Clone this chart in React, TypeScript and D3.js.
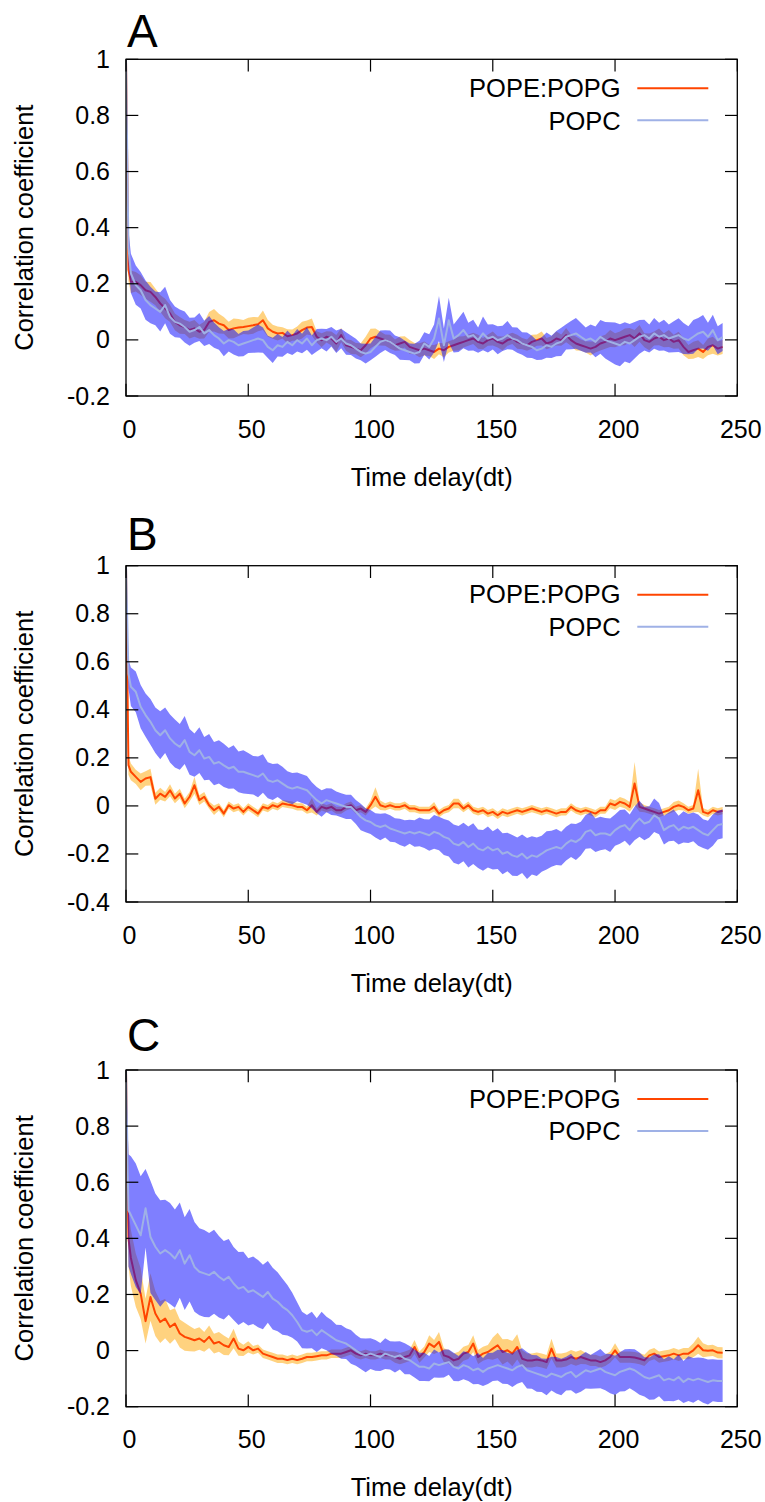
import React from 'react';
import * as d3 from 'd3';

// time grid (dt): 0, 1, then every 2 dt up to 244
const TIMES: number[] = [0, 1, ...d3.range(2, 245, 2)];

const X_TICKS = [0, 50, 100, 150, 200, 250];
const Y_TICKS_A = [-0.2, 0, 0.2, 0.4, 0.6, 0.8, 1];
const Y_TICKS_B = [-0.4, -0.2, 0, 0.2, 0.4, 0.6, 0.8, 1];
const Y_TICKS_C = [-0.2, 0, 0.2, 0.4, 0.6, 0.8, 1];
const PANEL_LABELS = ['A', 'B', 'C'];
const SERIES_NAMES = ['POPE:POPG', 'POPC'];
const X_LABEL = 'Time delay(dt)';
const Y_LABEL = 'Correlation coefficient';

// ---------- Panel A ----------
const PE_A = [1.0, 0.25,
  0.207, 0.207, 0.195, 0.177, 0.171, 0.153, 0.130, 0.112, 0.094, 0.064,
  0.052, 0.046, 0.035, 0.041, 0.029, 0.035, 0.064, 0.070, 0.058, 0.052,
  0.035, 0.041, 0.044, 0.046, 0.049, 0.052, 0.056, 0.070, 0.041, 0.029,
  0.023, 0.025, 0.013, 0.017, 0.023, 0.035, 0.044, 0.046, 0.011, -0.001,
  0.011, 0.005, -0.013, 0.017, -0.019, -0.025, -0.031, -0.037, -0.019, 0.005,
  0.011, 0.005, -0.001, -0.007, -0.019, -0.013, -0.007, -0.025, -0.031, -0.037,
  -0.031, -0.037, -0.043, -0.031, -0.037, -0.025, -0.019, -0.013, -0.007, -0.001,
  0.005, -0.007, -0.013, -0.001, 0.005, -0.007, -0.013, -0.001, 0.005, -0.007,
  -0.013, -0.019, -0.007, -0.001, 0.005, -0.013, -0.007, 0.005, -0.001, 0.017,
  -0.001, -0.013, -0.019, -0.025, -0.031, -0.025, -0.013, -0.007, 0.005, -0.001,
  0.005, 0.011, 0.017, 0.005, 0.023, -0.001, -0.007, 0.005, 0.011, -0.001,
  0.005, -0.007, -0.001, -0.025, -0.043, -0.037, -0.031, -0.043, -0.025, -0.019,
  -0.031, -0.025];
const PE_A_ERR = [0, 0.04,
  0.04, 0.035, 0.035, 0.03, 0.035, 0.03, 0.03, 0.035, 0.03, 0.03,
  0.03, 0.025, 0.03, 0.03, 0.025, 0.03, 0.035, 0.04, 0.035, 0.03,
  0.03, 0.035, 0.03, 0.025, 0.03, 0.03, 0.025, 0.035, 0.03, 0.025,
  0.025, 0.02, 0.025, 0.02, 0.025, 0.03, 0.025, 0.03, 0.02, 0.025,
  0.02, 0.025, 0.03, 0.025, 0.02, 0.025, 0.02, 0.025, 0.03, 0.035,
  0.03, 0.025, 0.02, 0.025, 0.02, 0.025, 0.02, 0.025, 0.02, 0.025,
  0.025, 0.02, 0.025, 0.02, 0.025, 0.02, 0.02, 0.025, 0.02, 0.02,
  0.02, 0.025, 0.02, 0.02, 0.025, 0.02, 0.025, 0.02, 0.02, 0.025,
  0.02, 0.02, 0.025, 0.02, 0.025, 0.02, 0.02, 0.025, 0.02, 0.025,
  0.02, 0.025, 0.02, 0.02, 0.025, 0.02, 0.025, 0.025, 0.03, 0.025,
  0.025, 0.03, 0.025, 0.03, 0.03, 0.025, 0.03, 0.025, 0.03, 0.025,
  0.03, 0.025, 0.03, 0.03, 0.025, 0.03, 0.03, 0.025, 0.03, 0.03,
  0.025, 0.025];
const PC_A = [1.0, 0.33,
  0.237, 0.195, 0.177, 0.142, 0.124, 0.112, 0.100, 0.124, 0.082, 0.064,
  0.058, 0.046, 0.029, 0.035, 0.046, 0.023, 0.035, 0.017, 0.005, -0.013,
  -0.001, -0.007, -0.019, -0.013, -0.007, -0.001, 0.005, -0.001, -0.025, -0.037,
  -0.019, -0.025, -0.007, -0.019, -0.001, -0.013, 0.005, -0.019, -0.001, 0.005,
  -0.001, 0.011, -0.007, 0.005, -0.013, -0.019, -0.031, -0.043, -0.049, -0.043,
  -0.025, -0.007, -0.001, -0.007, -0.019, -0.031, -0.037, -0.043, -0.049, -0.043,
  -0.013, -0.025, 0.005, 0.076, -0.019, 0.070, 0.005, 0.017, 0.035, 0.011,
  0.017, -0.001, 0.023, 0.005, 0.011, -0.001, 0.005, 0.017, 0.005, -0.001,
  -0.013, -0.019, -0.025, -0.037, -0.031, -0.019, -0.025, -0.013, -0.007, 0.011,
  0.017, 0.023, 0.011, -0.001, 0.005, -0.007, 0.011, -0.001, -0.007, -0.013,
  -0.019, -0.007, -0.013, -0.001, 0.011, 0.017, 0.005, 0.023, 0.011, 0.017,
  0.005, 0.011, 0.017, 0.005, -0.001, 0.011, 0.023, 0.029, 0.011, 0.035,
  -0.001, 0.010];
const PC_A_ERR = [0, 0.06,
  0.07, 0.07, 0.065, 0.07, 0.065, 0.06, 0.07, 0.065, 0.06, 0.055,
  0.05, 0.055, 0.05, 0.045, 0.05, 0.045, 0.05, 0.045, 0.04, 0.045,
  0.04, 0.045, 0.04, 0.045, 0.04, 0.045, 0.05, 0.045, 0.04, 0.045,
  0.04, 0.035, 0.04, 0.035, 0.04, 0.035, 0.04, 0.035, 0.04, 0.035,
  0.04, 0.035, 0.04, 0.035, 0.04, 0.035, 0.035, 0.03, 0.035, 0.03,
  0.035, 0.04, 0.035, 0.04, 0.035, 0.04, 0.035, 0.03, 0.035, 0.04,
  0.04, 0.045, 0.05, 0.08, 0.06, 0.08, 0.05, 0.06, 0.065, 0.05,
  0.055, 0.045, 0.06, 0.05, 0.045, 0.05, 0.045, 0.05, 0.04, 0.045,
  0.04, 0.045, 0.04, 0.035, 0.04, 0.045, 0.04, 0.045, 0.05, 0.045,
  0.05, 0.055, 0.05, 0.045, 0.05, 0.055, 0.06, 0.065, 0.07, 0.075,
  0.075, 0.07, 0.07, 0.065, 0.06, 0.055, 0.05, 0.055, 0.05, 0.055,
  0.05, 0.055, 0.06, 0.055, 0.05, 0.06, 0.055, 0.06, 0.05, 0.055,
  0.05, 0.05];

// ---------- Panel B ----------
const PE_B = [1.0, 0.17,
  0.142, 0.121, 0.100, 0.114, 0.120, 0.030, 0.051, 0.038, 0.065, 0.031,
  0.051, 0.010, 0.038, 0.086, 0.024, 0.038, 0.003, -0.018, -0.004, -0.032,
  0.003, -0.011, -0.004, -0.025, -0.004, -0.018, -0.032, -0.004, -0.011, 0.003,
  -0.004, 0.010, 0.006, 0.003, -0.004, -0.004, -0.018, 0.003, -0.025, -0.004,
  -0.011, -0.004, -0.018, -0.018, -0.004, 0.003, -0.018, -0.011, -0.025, 0.003,
  0.038, 0.003, -0.004, 0.003, -0.004, -0.004, 0.003, -0.011, -0.011, -0.018,
  -0.018, -0.018, -0.004, -0.032, -0.018, -0.011, 0.010, 0.010, -0.011, 0.003,
  -0.018, -0.025, -0.018, -0.032, -0.025, -0.039, -0.025, -0.032, -0.025, -0.018,
  -0.025, -0.018, -0.011, -0.018, -0.025, -0.018, -0.025, -0.032, -0.025, -0.025,
  -0.004, -0.018, -0.025, -0.018, -0.025, -0.032, -0.018, -0.018, 0.010, 0.003,
  0.017, 0.010, -0.004, 0.093, -0.004, -0.011, -0.018, -0.025, -0.032, -0.025,
  -0.018, -0.004, 0.003, -0.004, -0.018, -0.011, 0.065, -0.025, -0.032, -0.018,
  -0.025, -0.020];
const PE_B_ERR = [0, 0.04,
  0.035, 0.03, 0.035, 0.03, 0.035, 0.025, 0.025, 0.02, 0.025, 0.02,
  0.02, 0.02, 0.02, 0.035, 0.02, 0.02, 0.015, 0.02, 0.015, 0.015,
  0.015, 0.015, 0.015, 0.015, 0.015, 0.015, 0.015, 0.015, 0.015, 0.015,
  0.015, 0.015, 0.015, 0.015, 0.015, 0.015, 0.015, 0.03, 0.015, 0.015,
  0.015, 0.015, 0.015, 0.015, 0.015, 0.015, 0.015, 0.015, 0.015, 0.02,
  0.04, 0.02, 0.015, 0.015, 0.015, 0.015, 0.015, 0.015, 0.015, 0.015,
  0.015, 0.015, 0.02, 0.015, 0.015, 0.015, 0.02, 0.02, 0.015, 0.015,
  0.015, 0.015, 0.015, 0.015, 0.015, 0.015, 0.015, 0.015, 0.015, 0.015,
  0.015, 0.015, 0.015, 0.015, 0.015, 0.015, 0.015, 0.015, 0.015, 0.015,
  0.015, 0.015, 0.015, 0.015, 0.015, 0.015, 0.015, 0.015, 0.02, 0.02,
  0.02, 0.02, 0.02, 0.09, 0.02, 0.015, 0.015, 0.015, 0.015, 0.015,
  0.015, 0.02, 0.02, 0.015, 0.015, 0.015, 0.09, 0.015, 0.015, 0.015,
  0.015, 0.015];
const PC_B = [1.0, 0.55,
  0.496, 0.475, 0.413, 0.378, 0.350, 0.315, 0.294, 0.315, 0.281, 0.260,
  0.246, 0.274, 0.225, 0.211, 0.232, 0.197, 0.204, 0.176, 0.183, 0.169,
  0.156, 0.163, 0.142, 0.142, 0.135, 0.128, 0.121, 0.135, 0.107, 0.100,
  0.107, 0.093, 0.079, 0.072, 0.079, 0.072, 0.065, 0.044, 0.024, 0.010,
  0.024, 0.017, 0.010, 0.003, -0.004, -0.004, -0.025, -0.046, -0.060, -0.067,
  -0.081, -0.088, -0.081, -0.094, -0.101, -0.108, -0.115, -0.108, -0.115, -0.108,
  -0.115, -0.122, -0.108, -0.115, -0.129, -0.136, -0.157, -0.164, -0.150, -0.171,
  -0.157, -0.178, -0.185, -0.171, -0.185, -0.178, -0.199, -0.192, -0.206, -0.212,
  -0.199, -0.219, -0.206, -0.212, -0.199, -0.185, -0.178, -0.171, -0.178, -0.157,
  -0.143, -0.150, -0.136, -0.108, -0.101, -0.122, -0.115, -0.115, -0.122, -0.101,
  -0.087, -0.080, -0.101, -0.073, -0.053, -0.073, -0.066, -0.039, -0.053, -0.101,
  -0.087, -0.080, -0.101, -0.087, -0.094, -0.087, -0.101, -0.115, -0.122, -0.101,
  -0.080, -0.075];
const PC_B_ERR = [0, 0.06,
  0.08, 0.085, 0.09, 0.09, 0.095, 0.095, 0.1, 0.095, 0.1, 0.1,
  0.095, 0.1, 0.095, 0.09, 0.095, 0.09, 0.095, 0.09, 0.09, 0.09,
  0.085, 0.09, 0.085, 0.09, 0.085, 0.08, 0.085, 0.08, 0.075, 0.075,
  0.07, 0.07, 0.065, 0.065, 0.06, 0.06, 0.06, 0.055, 0.055, 0.055,
  0.05, 0.055, 0.05, 0.05, 0.05, 0.05, 0.05, 0.055, 0.05, 0.05,
  0.05, 0.055, 0.05, 0.055, 0.05, 0.055, 0.055, 0.05, 0.055, 0.06,
  0.06, 0.065, 0.07, 0.07, 0.075, 0.075, 0.08, 0.08, 0.08, 0.085,
  0.085, 0.08, 0.085, 0.085, 0.08, 0.085, 0.085, 0.08, 0.085, 0.08,
  0.08, 0.085, 0.08, 0.08, 0.075, 0.08, 0.075, 0.075, 0.07, 0.07,
  0.07, 0.075, 0.07, 0.07, 0.075, 0.07, 0.07, 0.065, 0.07, 0.065,
  0.07, 0.065, 0.065, 0.07, 0.075, 0.07, 0.065, 0.07, 0.065, 0.06,
  0.06, 0.065, 0.06, 0.065, 0.06, 0.06, 0.065, 0.06, 0.06, 0.065,
  0.06, 0.06];

// ---------- Panel C ----------
const PE_C = [1.0, 0.40,
  0.33, 0.251, 0.203, 0.105, 0.191, 0.132, 0.102, 0.114, 0.084, 0.096,
  0.061, 0.049, 0.043, 0.037, 0.043, 0.031, 0.049, 0.025, 0.031, 0.019,
  0.013, 0.043, 0.007, 0.001, 0.013, 0.001, 0.007, -0.011, -0.017, -0.023,
  -0.029, -0.029, -0.034, -0.029, -0.034, -0.029, -0.023, -0.023, -0.020, -0.017,
  -0.017, -0.011, -0.011, -0.011, -0.005, 0.001, -0.011, -0.017, -0.011, -0.017,
  -0.017, -0.011, -0.017, -0.017, -0.023, -0.029, -0.023, -0.017, 0.013, -0.023,
  -0.005, 0.025, 0.013, 0.031, -0.017, -0.023, -0.035, -0.029, -0.011, -0.005,
  0.025, -0.023, -0.011, -0.005, 0.007, 0.019, -0.005, 0.001, -0.011, 0.013,
  -0.029, -0.035, -0.035, -0.032, -0.035, -0.041, 0.007, -0.035, -0.035, -0.032,
  -0.023, -0.029, -0.023, -0.029, -0.035, -0.035, -0.041, -0.035, -0.023, 0.001,
  -0.023, -0.023, -0.023, -0.025, -0.029, -0.035, -0.017, -0.011, -0.023, -0.020,
  -0.017, -0.011, -0.017, -0.011, -0.011, 0.001, 0.019, 0.001, -0.001, 0.001,
  -0.007, -0.008];
const PE_C_ERR = [0, 0.1,
  0.1, 0.095, 0.09, 0.08, 0.085, 0.08, 0.075, 0.07, 0.06, 0.055,
  0.05, 0.05, 0.045, 0.04, 0.04, 0.035, 0.04, 0.035, 0.035, 0.035,
  0.03, 0.035, 0.025, 0.02, 0.02, 0.015, 0.015, 0.015, 0.015, 0.015,
  0.015, 0.015, 0.015, 0.015, 0.015, 0.015, 0.015, 0.015, 0.015, 0.015,
  0.015, 0.015, 0.015, 0.015, 0.015, 0.015, 0.015, 0.015, 0.015, 0.015,
  0.015, 0.015, 0.015, 0.015, 0.02, 0.02, 0.02, 0.02, 0.025, 0.02,
  0.02, 0.03, 0.025, 0.035, 0.025, 0.025, 0.025, 0.025, 0.025, 0.025,
  0.03, 0.025, 0.025, 0.025, 0.04, 0.045, 0.045, 0.04, 0.045, 0.045,
  0.03, 0.025, 0.025, 0.025, 0.025, 0.025, 0.035, 0.025, 0.025, 0.025,
  0.025, 0.025, 0.025, 0.02, 0.02, 0.02, 0.02, 0.02, 0.02, 0.025,
  0.02, 0.02, 0.02, 0.02, 0.02, 0.02, 0.02, 0.02, 0.02, 0.02,
  0.02, 0.02, 0.02, 0.02, 0.02, 0.025, 0.03, 0.025, 0.02, 0.02,
  0.02, 0.02];
const PC_C = [1.0, 0.50,
  0.483, 0.447, 0.411, 0.507, 0.405, 0.370, 0.346, 0.358, 0.346, 0.328,
  0.358, 0.310, 0.340, 0.298, 0.281, 0.275, 0.269, 0.281, 0.263, 0.251,
  0.263, 0.239, 0.221, 0.227, 0.209, 0.215, 0.203, 0.191, 0.209, 0.185,
  0.174, 0.156, 0.144, 0.126, 0.102, 0.073, 0.067, 0.073, 0.055, 0.073,
  0.061, 0.049, 0.037, 0.031, 0.025, 0.013, 0.001, -0.011, -0.017, -0.011,
  -0.017, -0.023, -0.011, -0.017, -0.023, -0.017, -0.029, -0.034, -0.046, -0.058,
  -0.058, -0.064, -0.046, -0.052, -0.046, -0.041, -0.058, -0.064, -0.052, -0.058,
  -0.070, -0.064, -0.076, -0.064, -0.058, -0.052, -0.058, -0.064, -0.070, -0.058,
  -0.052, -0.070, -0.076, -0.082, -0.088, -0.094, -0.082, -0.088, -0.094, -0.082,
  -0.076, -0.094, -0.082, -0.070, -0.076, -0.070, -0.064, -0.076, -0.082, -0.088,
  -0.076, -0.070, -0.064, -0.070, -0.082, -0.094, -0.100, -0.094, -0.088, -0.106,
  -0.100, -0.106, -0.094, -0.112, -0.100, -0.106, -0.100, -0.106, -0.112, -0.106,
  -0.108, -0.108];
const PC_C_ERR = [0, 0.2,
  0.21, 0.22, 0.21, 0.14, 0.2, 0.19, 0.19, 0.18, 0.18, 0.175,
  0.17, 0.165, 0.165, 0.16, 0.155, 0.155, 0.15, 0.15, 0.145, 0.14,
  0.135, 0.13, 0.13, 0.125, 0.12, 0.12, 0.12, 0.115, 0.11, 0.11,
  0.105, 0.1, 0.09, 0.08, 0.07, 0.065, 0.06, 0.065, 0.06, 0.065,
  0.06, 0.06, 0.055, 0.06, 0.055, 0.06, 0.055, 0.055, 0.06, 0.055,
  0.055, 0.05, 0.055, 0.05, 0.055, 0.05, 0.055, 0.05, 0.05, 0.05,
  0.05, 0.045, 0.05, 0.045, 0.05, 0.045, 0.05, 0.045, 0.05, 0.05,
  0.05, 0.055, 0.05, 0.055, 0.05, 0.055, 0.06, 0.055, 0.06, 0.06,
  0.06, 0.065, 0.06, 0.065, 0.06, 0.065, 0.06, 0.065, 0.065, 0.06,
  0.065, 0.06, 0.065, 0.065, 0.06, 0.065, 0.07, 0.065, 0.07, 0.07,
  0.07, 0.075, 0.07, 0.075, 0.075, 0.07, 0.075, 0.08, 0.075, 0.075,
  0.08, 0.075, 0.08, 0.075, 0.08, 0.08, 0.075, 0.08, 0.08, 0.075,
  0.075, 0.075];

// ---------- styling / layout ----------
const FONT = '"Liberation Sans", Arial, Helvetica, sans-serif';
const PE_LINE = '#ff4500';
const PE_FILL = 'rgba(255,165,0,0.5)';
const PC_LINE = '#9fb1e6';
const PC_FILL = 'rgba(0,0,255,0.5)';

const X0 = 126;
const X1 = 737.3;
const TICK = 12.3;

type PanelSpec = {
  top: number; bottom: number; yMin: number; yTicks: number[]; label: string; labelY: number;
  pe: number[]; peErr: number[]; pc: number[]; pcErr: number[];
};

const PANELS: PanelSpec[] = [
  { top: 59.3, bottom: 396, yMin: -0.2, yTicks: Y_TICKS_A, label: PANEL_LABELS[0], labelY: 46.7,
    pe: PE_A, peErr: PE_A_ERR, pc: PC_A, pcErr: PC_A_ERR },
  { top: 565.7, bottom: 902, yMin: -0.4, yTicks: Y_TICKS_B, label: PANEL_LABELS[1], labelY: 550,
    pe: PE_B, peErr: PE_B_ERR, pc: PC_B, pcErr: PC_B_ERR },
  { top: 1070, bottom: 1406.7, yMin: -0.2, yTicks: Y_TICKS_C, label: PANEL_LABELS[2], labelY: 1050.5,
    pe: PE_C, peErr: PE_C_ERR, pc: PC_C, pcErr: PC_C_ERR },
];

type Row = { t: number; m: number; e: number };
const rowsOf = (mean: number[], err: number[]): Row[] =>
  TIMES.map((t, i) => ({ t, m: mean[i], e: err[i] ?? 0 })).filter(r => r.m !== undefined);

function Panel({ p, idx }: { p: PanelSpec; idx: number }) {
  const x = d3.scaleLinear().domain([0, 250]).range([X0, X1]);
  const y = d3.scaleLinear().domain([p.yMin, 1]).range([p.bottom, p.top]);
  const area = d3.area<Row>().x(r => x(r.t)).y0(r => y(r.m - r.e)).y1(r => y(r.m + r.e));
  const line = d3.line<Row>().x(r => x(r.t)).y(r => y(r.m));
  const peRows = rowsOf(p.pe, p.peErr);
  const pcRows = rowsOf(p.pc, p.pcErr);
  const clipId = `clip-${idx}`;
  const fmt = (v: number) => String(Math.round(v * 10) / 10);
  return (
    <g>
      <defs>
        <clipPath id={clipId}>
          <rect x={X0} y={p.top} width={X1 - X0} height={p.bottom - p.top} />
        </clipPath>
      </defs>
      <text x={127} y={p.labelY} fontSize={46} fontFamily={FONT} fill="#000">{p.label}</text>
      <g clipPath={`url(#${clipId})`}>
        <path d={area(peRows) || ''} fill={PE_FILL} stroke="none" />
        <path d={line(peRows) || ''} fill="none" stroke={PE_LINE} strokeWidth={2} strokeLinejoin="round" />
        <path d={area(pcRows) || ''} fill={PC_FILL} stroke="none" />
        <path d={line(pcRows) || ''} fill="none" stroke={PC_LINE} strokeWidth={2} strokeLinejoin="round" />
      </g>
      {p.yTicks.map(v => (
        <g key={`y${v}`}>
          <line x1={X0} x2={X0 + TICK} y1={y(v)} y2={y(v)} stroke="#000" strokeWidth={1.2} />
          <line x1={X1 - TICK} x2={X1} y1={y(v)} y2={y(v)} stroke="#000" strokeWidth={1.2} />
          <text x={110} y={y(v) + 8.5} textAnchor="end" fontSize={25} fontFamily={FONT} fill="#000">{fmt(v)}</text>
        </g>
      ))}
      {X_TICKS.map(v => (
        <g key={`x${v}`}>
          <line x1={x(v)} x2={x(v)} y1={p.bottom} y2={p.bottom - TICK} stroke="#000" strokeWidth={1.2} />
          <line x1={x(v)} x2={x(v)} y1={p.top} y2={p.top + TICK} stroke="#000" strokeWidth={1.2} />
          <text x={x(v) + 3.5} y={p.bottom + 41.5} textAnchor="middle" fontSize={25} fontFamily={FONT} fill="#000">{v}</text>
        </g>
      ))}
      <rect x={X0} y={p.top} width={X1 - X0} height={p.bottom - p.top} fill="none" stroke="#000" strokeWidth={1.3} />
      <text x={(X0 + X1) / 2} y={p.bottom + 89.5} textAnchor="middle" fontSize={25.5} fontFamily={FONT} fill="#000">{X_LABEL}</text>
      <text transform={`translate(33, ${(p.top + p.bottom) / 2}) rotate(-90)`} textAnchor="middle" fontSize={25.5} fontFamily={FONT} fill="#000">{Y_LABEL}</text>
      <text x={620.7} y={p.top + 37.7} textAnchor="end" fontSize={25.5} fontFamily={FONT} fill="#000">{SERIES_NAMES[0]}</text>
      <line x1={637.3} x2={708.3} y1={p.top + 29} y2={p.top + 29} stroke={PE_LINE} strokeWidth={2} />
      <text x={620.7} y={p.top + 70.4} textAnchor="end" fontSize={25.5} fontFamily={FONT} fill="#000">{SERIES_NAMES[1]}</text>
      <line x1={637.3} x2={708.3} y1={p.top + 61} y2={p.top + 61} stroke={PC_LINE} strokeWidth={2} />
    </g>
  );
}

export default function App() {
  return (
    <svg width={765} height={1502} viewBox="0 0 765 1502"
      style={{ position: 'absolute', left: 0, top: 0, background: '#fff' }}>
      <rect x={0} y={0} width={765} height={1502} fill="#fff" />
      {PANELS.map((p, i) => <Panel key={i} p={p} idx={i} />)}
    </svg>
  );
}
